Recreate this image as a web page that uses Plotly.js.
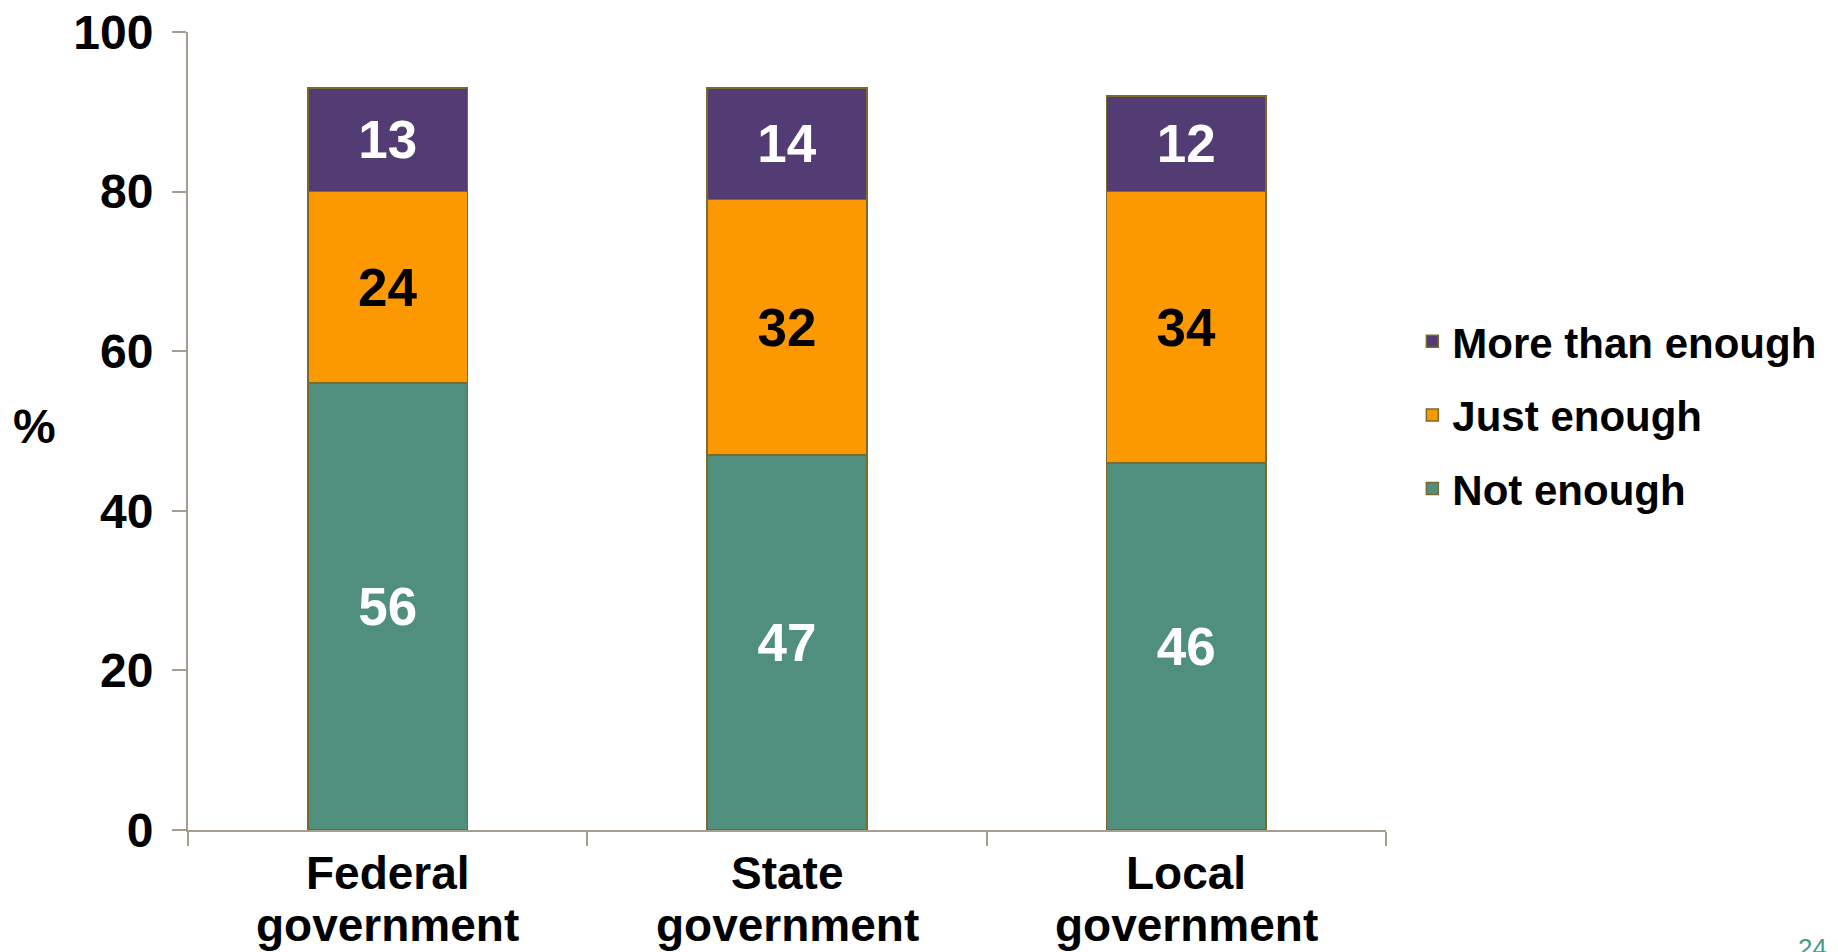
<!DOCTYPE html>
<html>
<head>
<meta charset="utf-8">
<script src="https://cdn.plot.ly/plotly-3.0.1.min.js"></script>
<style>
html, body { margin: 0; padding: 0; background: #ffffff; }
#chart { width: 1838px; height: 952px; }
</style>
</head>
<body>
<div id="chart"></div>
<script>
const categories = ["Federal government", "State government", "Local government"];
const tickLine1 = ["Federal", "State", "Local"];
const tickLine2 = ["government", "government", "government"];
const notEnough = [56, 47, 46];
const justEnough = [24, 32, 34];
const moreThanEnough = [13, 14, 12];
const seriesNames = ["Not enough", "Just enough", "More than enough"];
const yTicks = [0, 20, 40, 60, 80, 100];
const yTitle = "%";
const pageNumber = "24";

const FONT = "Liberation Sans, Arial, sans-serif";
const outline = { color: "#7A6A2E", width: 1.5 };

function barTrace(name, values, fill, textColor, rank) {
  return {
    type: "bar",
    name: name,
    x: categories,
    y: values,
    text: values.map(String),
    textposition: "inside",
    insidetextanchor: "middle",
    textangle: 0,
    constraintext: "none",
    textfont: { family: FONT, size: 53, color: textColor, weight: "bold" },
    marker: { color: fill, line: outline },
    legendgroup: "g" + rank,
    legendrank: rank,
    hoverinfo: "x+y+name"
  };
}

const data = [
  barTrace(seriesNames[0], notEnough, "#508F7E", "#ffffff", 3),
  barTrace(seriesNames[1], justEnough, "#FC9800", "#000000", 2),
  barTrace(seriesNames[2], moreThanEnough, "#523C73", "#ffffff", 1)
];

const annotations = [];
categories.forEach(function (c, i) {
  annotations.push({
    text: tickLine1[i], xref: "x", yref: "paper", x: c, y: -0.0539,
    xanchor: "center", yanchor: "middle", showarrow: false,
    font: { family: FONT, size: 46, color: "#000000", weight: "bold" }
  });
  annotations.push({
    text: tickLine2[i], xref: "x", yref: "paper", x: c, y: -0.1185,
    xanchor: "center", yanchor: "middle", showarrow: false,
    font: { family: FONT, size: 46, color: "#000000", weight: "bold" }
  });
});
annotations.push({
  text: yTitle, xref: "paper", yref: "paper",
  x: -0.1285, y: 0.506, xanchor: "center", yanchor: "middle",
  showarrow: false,
  font: { family: FONT, size: 48, color: "#000000", weight: "bold" }
});
annotations.push({
  text: pageNumber, xref: "paper", yref: "paper",
  x: 1.342, y: -0.148, xanchor: "left", yanchor: "middle",
  showarrow: false,
  font: { family: FONT, size: 26, color: "#4A9A88" }
});

const layout = {
  width: 1838,
  height: 952,
  margin: { l: 188, r: 452, t: 32, b: 122, pad: 0 },
  paper_bgcolor: "#ffffff",
  plot_bgcolor: "#ffffff",
  barmode: "stack",
  bargap: 0.6,
  showlegend: true,
  font: { family: FONT, color: "#000000" },
  xaxis: {
    type: "category",
    tickvals: categories,
    showticklabels: false,
    tickson: "boundaries",
    ticks: "outside",
    ticklen: 14,
    tickwidth: 1.5,
    tickcolor: "#A59E8E",
    showline: true,
    linecolor: "#A59E8E",
    linewidth: 2,
    showgrid: false,
    zeroline: false,
    fixedrange: true
  },
  yaxis: {
    range: [0, 100],
    tickvals: yTicks,
    ticks: "outside",
    ticklen: 14,
    tickwidth: 1.5,
    tickcolor: "#A59E8E",
    showline: true,
    linecolor: "#A59E8E",
    linewidth: 2,
    showgrid: false,
    zeroline: false,
    ticklabelstandoff: 9,
    tickfont: { family: FONT, size: 48, color: "#000000", weight: "bold" },
    fixedrange: true
  },
  legend: {
    x: 1.022,
    xanchor: "left",
    y: 0.52,
    yanchor: "middle",
    traceorder: "grouped",
    tracegroupgap: 16,
    font: { family: FONT, size: 42, color: "#000000", weight: "bold" },
    bgcolor: "rgba(0,0,0,0)"
  },
  annotations: annotations
};

Plotly.newPlot("chart", data, layout, { displayModeBar: false });
</script>
</body>
</html>
